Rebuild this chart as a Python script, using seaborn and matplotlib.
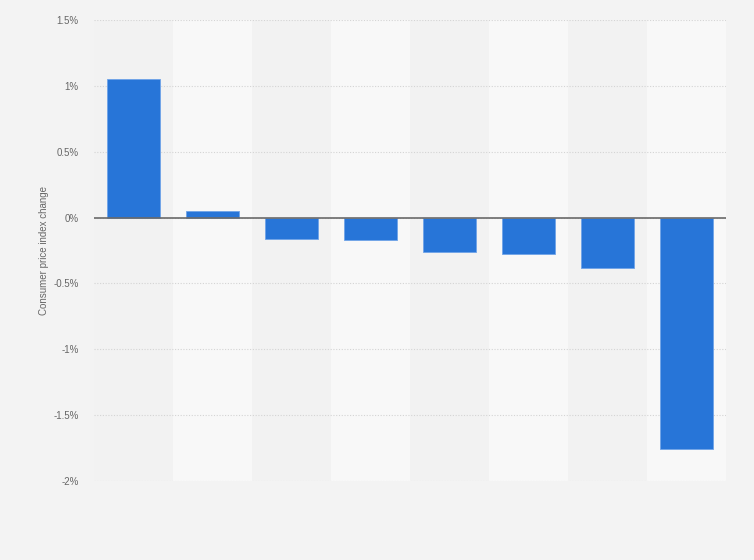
import numpy as np
import pandas as pd
import matplotlib
matplotlib.use("Agg")
import matplotlib.pyplot as plt
from matplotlib.ticker import FuncFormatter
import seaborn as sns

# --- Data ---
categories = ["C1", "C2", "C3", "C4", "C5", "C6", "C7", "C8"]
cpi_change = [1.05, 0.05, -0.16, -0.17, -0.26, -0.28, -0.38, -1.76]
y_ticks = [1.5, 1.0, 0.5, 0.0, -0.5, -1.0, -1.5, -2.0]

df = pd.DataFrame({"category": categories, "change": cpi_change})

sns.set_theme(style="white")
plt.rcParams['font.family'] = ['Liberation Sans', 'DejaVu Sans']

fig = plt.figure(figsize=(7.54, 5.6), dpi=100)
fig.patch.set_facecolor("#f3f3f3")
ax = fig.add_axes([0.1247, 0.1411, 0.8382, 0.8232])
ax.set_facecolor("#f2f2f2")

# alternating column bands
for i in range(len(categories)):
    if i % 2 == 1:
        ax.axvspan(i - 0.5, i + 0.5, color="#f8f8f8", zorder=0, lw=0)

sns.barplot(data=df, x="category", y="change", color="#2775d8",
            width=0.68, saturation=1, edgecolor="#6fa3e8", linewidth=0.6,
            ax=ax, zorder=3)

ax.set_xlim(-0.5, len(categories) - 0.5)
ax.set_ylim(-2.0, 1.5)
ax.set_yticks(y_ticks)
ax.yaxis.set_major_formatter(FuncFormatter(lambda v, _: f"{v:g}%"))
ax.grid(axis="y", color="#d4d4d4", linestyle=(0, (1, 1.5)), linewidth=0.8, zorder=1)
ax.axhline(0, color="#6a6a6a", linewidth=1.2, zorder=4)

ax.set_xticks(range(len(categories)))
ax.set_xticklabels([""] * len(categories))
ax.set_xlabel("")
ax.set_ylabel("Consumer price index change", fontsize=7, color="#666666", labelpad=3)
ax.tick_params(axis="y", length=0, labelsize=7, labelcolor="#666666", pad=11)
ax.tick_params(axis="x", length=0)
for s in ax.spines.values():
    s.set_visible(False)

fig.savefig("out.png", dpi=100, facecolor=fig.get_facecolor())
